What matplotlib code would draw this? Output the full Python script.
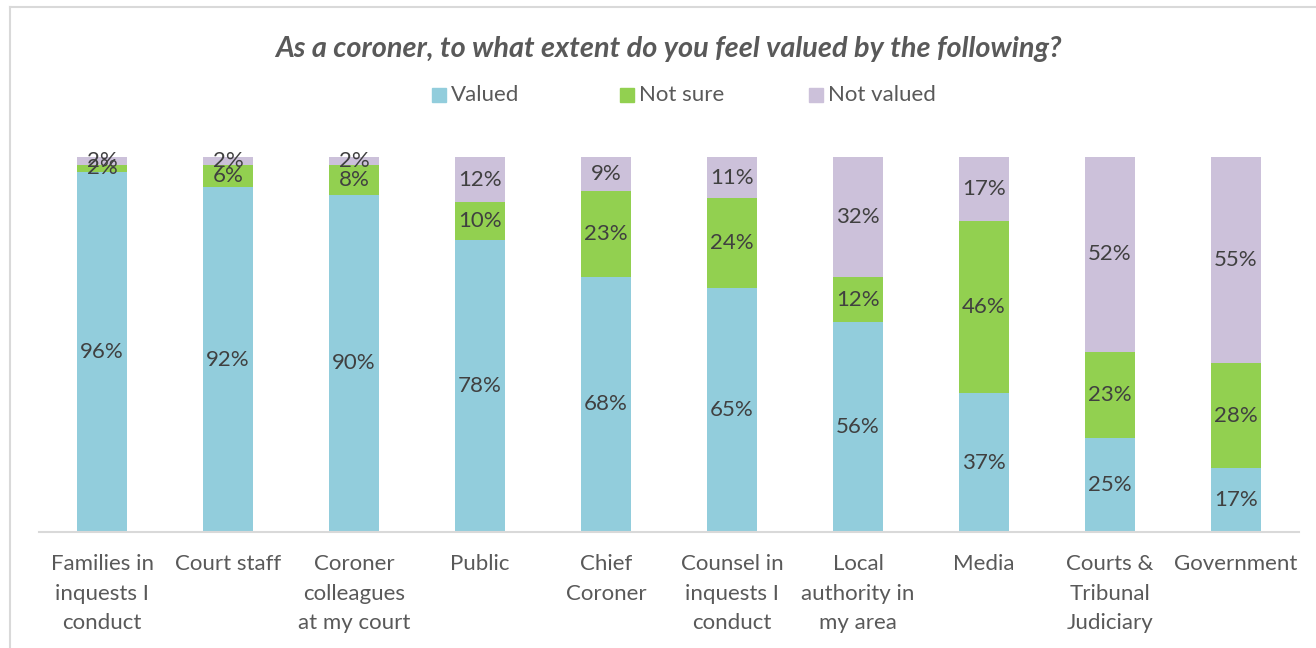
import matplotlib
matplotlib.use("Agg")
import matplotlib.pyplot as plt
from matplotlib.patches import Rectangle
from matplotlib.lines import Line2D
import numpy as np

plt.rcParams['font.family'] = ['Lato', 'DejaVu Sans']

categories = ["Families in\ninquests I\nconduct", "Court staff", "Coroner\ncolleagues\nat my court",
              "Public", "Chief\nCoroner", "Counsel in\ninquests I\nconduct", "Local\nauthority in\nmy area",
              "Media", "Courts &\nTribunal\nJudiciary", "Government"]
valued = [96, 92, 90, 78, 68, 65, 56, 37, 25, 17]
not_sure = [2, 6, 8, 10, 23, 24, 12, 46, 23, 28]
not_valued = [2, 2, 2, 12, 9, 11, 32, 17, 52, 55]
series_names = ["Valued", "Not sure", "Not valued"]
colors = ["#92CDDC", "#92D050", "#CCC1DA"]
title = "As a coroner, to what extent do you feel valued by the following?"

W, H = 1316, 648
fig = plt.figure(figsize=(W / 100, H / 100), dpi=100)

# chart border
fig.add_artist(Line2D([10 / W, 10 / W], [0, 1 - 7 / H], color="#D9D9D9", lw=1.5, transform=fig.transFigure))
fig.add_artist(Line2D([10 / W, 1], [1 - 7 / H, 1 - 7 / H], color="#D9D9D9", lw=1.5, transform=fig.transFigure))

ax = fig.add_axes([39 / W, (H - 532) / H, (1299 - 39) / W, (532 - 157) / H])
x = np.arange(len(categories))
data = [np.array(valued), np.array(not_sure), np.array(not_valued)]
tot = np.array(valued) + np.array(not_sure) + np.array(not_valued)
bottom = np.zeros(len(categories))
for vals, c, name in zip(data, colors, series_names):
    frac = vals / tot
    ax.bar(x, frac, 0.397, bottom=bottom, color=c, label=name)
    for xi, b, f, v in zip(x, bottom, frac, vals):
        ax.text(xi, b + f / 2, f"{v}%", ha="center", va="center", fontsize=16, color="#404040")
    bottom = bottom + frac

ax.set_xlim(-0.5, len(categories) - 0.5)
ax.set_ylim(0, 1)
ax.set_yticks([])
ax.set_xticks(x)
ax.set_xticklabels(categories, fontsize=16, color="#595959", linespacing=1.6, va="top")
ax.tick_params(axis="x", length=0, pad=16)
for s in ["top", "right", "left"]:
    ax.spines[s].set_visible(False)
ax.spines["bottom"].set_color("#D9D9D9")
ax.spines["bottom"].set_linewidth(1.5)

fig.text(668 / W, 1 - 49 / H, title, ha="center", va="center", fontsize=20.8,
         fontweight="bold", fontstyle="italic", color="#595959")

# legend
leg_x = [432, 620, 809]
for lx, c, name in zip(leg_x, colors, series_names):
    fig.add_artist(Rectangle((lx / W, 1 - 102 / H), 14 / W, 14 / H, color=c, transform=fig.transFigure))
    fig.text((lx + 19) / W, 1 - 95 / H, name, ha="left", va="center", fontsize=16, color="#595959")

fig.savefig("out.png", dpi=100)
